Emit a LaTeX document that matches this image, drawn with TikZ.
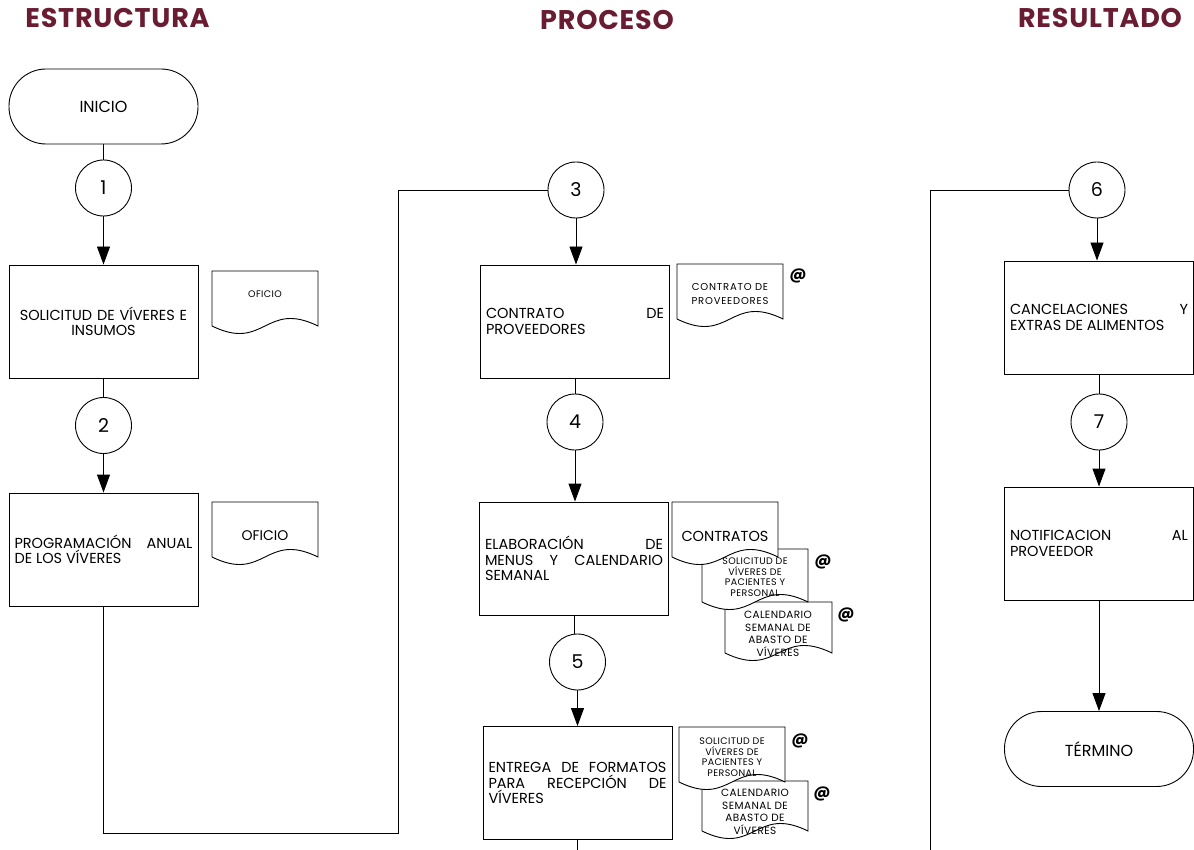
\documentclass[tikz,border=0pt]{standalone}
\usepackage{fontspec}
\setmainfont{Poppins}
\usetikzlibrary{arrows.meta}
\definecolor{guinda}{RGB}{105,28,50}
\hyphenpenalty=10000
\exhyphenpenalty=10000

% document symbol: left x, top y, width, side height (wavy bottom)
\newcommand{\docshape}[4]{%
  \draw[doc] (#1,#2) -- (#1+#3,#2) -- (#1+#3,#2+#4)
    .. controls (#1+0.5*#3,#2+#4-26) and (#1+0.5*#3,#2+#4+26) .. (#1,#2+#4) -- cycle;}

\begin{document}
\begin{tikzpicture}[x=1pt,y=-1pt,
  line width=0.9pt,
  every node/.style={inner sep=0pt},
  header/.style={font=\fontsize{27}{30}\selectfont\bfseries\addfontfeature{LetterSpace=3}, text=guinda},
  terminal/.style={draw, rounded corners=37pt, minimum width=189pt, minimum height=75pt,
    font=\fontsize{16}{18}\selectfont},
  conn/.style={draw, circle, minimum size=56pt, font=\fontsize{19}{20}\selectfont},
  stepbox/.style={draw, minimum width=189pt, minimum height=113pt, text width=178pt,
    align=justify, font=\fontsize{14.5}{15.5}\selectfont},
  flow/.style={-{Triangle[length=18pt,width=13pt]}},
  doc/.style={draw, fill=white},
  doctext/.style={align=center, font=\fontsize{9.5}{10.5}\selectfont\addfontfeature{LetterSpace=4}},
  caltext/.style={align=center, font=\fontsize{10.5}{12.5}\selectfont\addfontfeature{LetterSpace=4}},
  atsign/.style={font=\fontsize{16}{16}\selectfont\bfseries},
]
\useasboundingbox (0,0) rectangle (1194,850);

% column headers
\node[header] (hEst) at (117.5,18) {ESTRUCTURA};
\node[header] (hPro) at (607,20) {PROCESO};
\node[header] (hRes) at (1100,18) {RESULTADO};

% first column
\node[terminal] (ini) at (103.5,106.5) {INICIO};
\node[conn] (c1) at (103.5,188) {1};
\node[stepbox, align=center] (b1) at (103.5,321.5) {SOLICITUD DE VÍVERES E\\INSUMOS};
\node[conn] (c2) at (103.5,425.5) {2};
\node[stepbox] (b2) at (103.5,549.5) {PROGRAMACIÓN ANUAL\linebreak DE LOS VÍVERES};

% second column
\node[conn] (c3) at (576,190) {3};
\node[stepbox] (b3) at (575,321.5) {CONTRATO DE\linebreak PROVEEDORES};
\node[conn] (c4) at (575,422) {4};
\node[stepbox] (b4) at (574,558.5) {ELABORACIÓN DE\linebreak MENUS Y CALENDARIO\linebreak SEMANAL};
\node[conn] (c5) at (577.5,662) {5};
\node[stepbox] (b5) at (577.5,783) {ENTREGA DE FORMATOS\linebreak PARA RECEPCIÓN DE\linebreak VÍVERES};

% third column
\node[conn] (c6) at (1097,190) {6};
\node[stepbox] (b6) at (1099,317.5) {CANCELACIONES Y\linebreak EXTRAS DE ALIMENTOS};
\node[conn] (c7) at (1099,422) {7};
\node[stepbox] (b7) at (1099,543.5) {NOTIFICACION AL\linebreak PROVEEDOR};
\node[terminal] (fin) at (1099,749) {TÉRMINO};

% connectors
\coordinate (k1) at (398,833);
\coordinate (k2) at (930,850);
\coordinate (k3) at (577.5,850);
\draw (ini) -- (c1);
\draw[flow] (c1) -- (b1);
\draw (b1) -- (c2);
\draw[flow] (c2) -- (b2);
\draw (b2.south) |- (k1) |- (c3.west);
\draw[flow] (c3.south) -- (c3.south |- b3.north);
\draw (b3) -- (c4);
\draw[flow] (c4) -- (c4 |- b4.north);
\draw (b4.south) -- (b4.south |- c5.north);
\draw[flow] (c5) -- (c5 |- b5.north);
\draw (b5) -- (k3);
\draw (k2) |- (c6.west);
\draw[flow] (c6.south) -- (c6.south |- b6.north);
\draw (b6) -- (c7);
\draw[flow] (c7) -- (b7);
\draw[flow] (b7) -- (fin);

% documents
\docshape{212}{271}{106}{55}
\docshape{212}{502}{106}{55}
\docshape{677}{264}{106}{55}
\docshape{725}{602}{107}{51}
\docshape{702}{549}{106}{53}
\docshape{672}{502}{106}{55}
\docshape{702}{781}{106}{50}
\docshape{679}{727}{106}{55}

\node[doctext] (tOf1) at (265,294) {OFICIO};
\node[doctext, font=\fontsize{14}{15}\selectfont] (tOf2) at (265,536) {OFICIO};
\node[doctext, font=\fontsize{10}{13.5}\selectfont\addfontfeature{LetterSpace=8}] (tCon) at (730,294) {CONTRATO DE\\PROVEEDORES};
\node[doctext, font=\fontsize{14.5}{15}\selectfont] (tCons) at (725,536) {CONTRATOS};
\node[doctext] (tSol1) at (755,577) {SOLICITUD DE\\VÍVERES DE\\PACIENTES Y\\PERSONAL};
\node[caltext] (tCal1) at (778,634) {CALENDARIO\\SEMANAL DE\\ABASTO DE\\VÍVERES};
\node[doctext] (tSol2) at (732,757) {SOLICITUD DE\\VÍVERES DE\\PACIENTES Y\\PERSONAL};
\node[caltext] (tCal2) at (755,812) {CALENDARIO\\SEMANAL DE\\ABASTO DE\\VÍVERES};

\node[atsign] (at1) at (798,276) {@};
\node[atsign] (at2) at (823,562) {@};
\node[atsign] (at3) at (846,615) {@};
\node[atsign] (at4) at (800,741) {@};
\node[atsign] (at5) at (822,794) {@};
\end{tikzpicture}
\end{document}
